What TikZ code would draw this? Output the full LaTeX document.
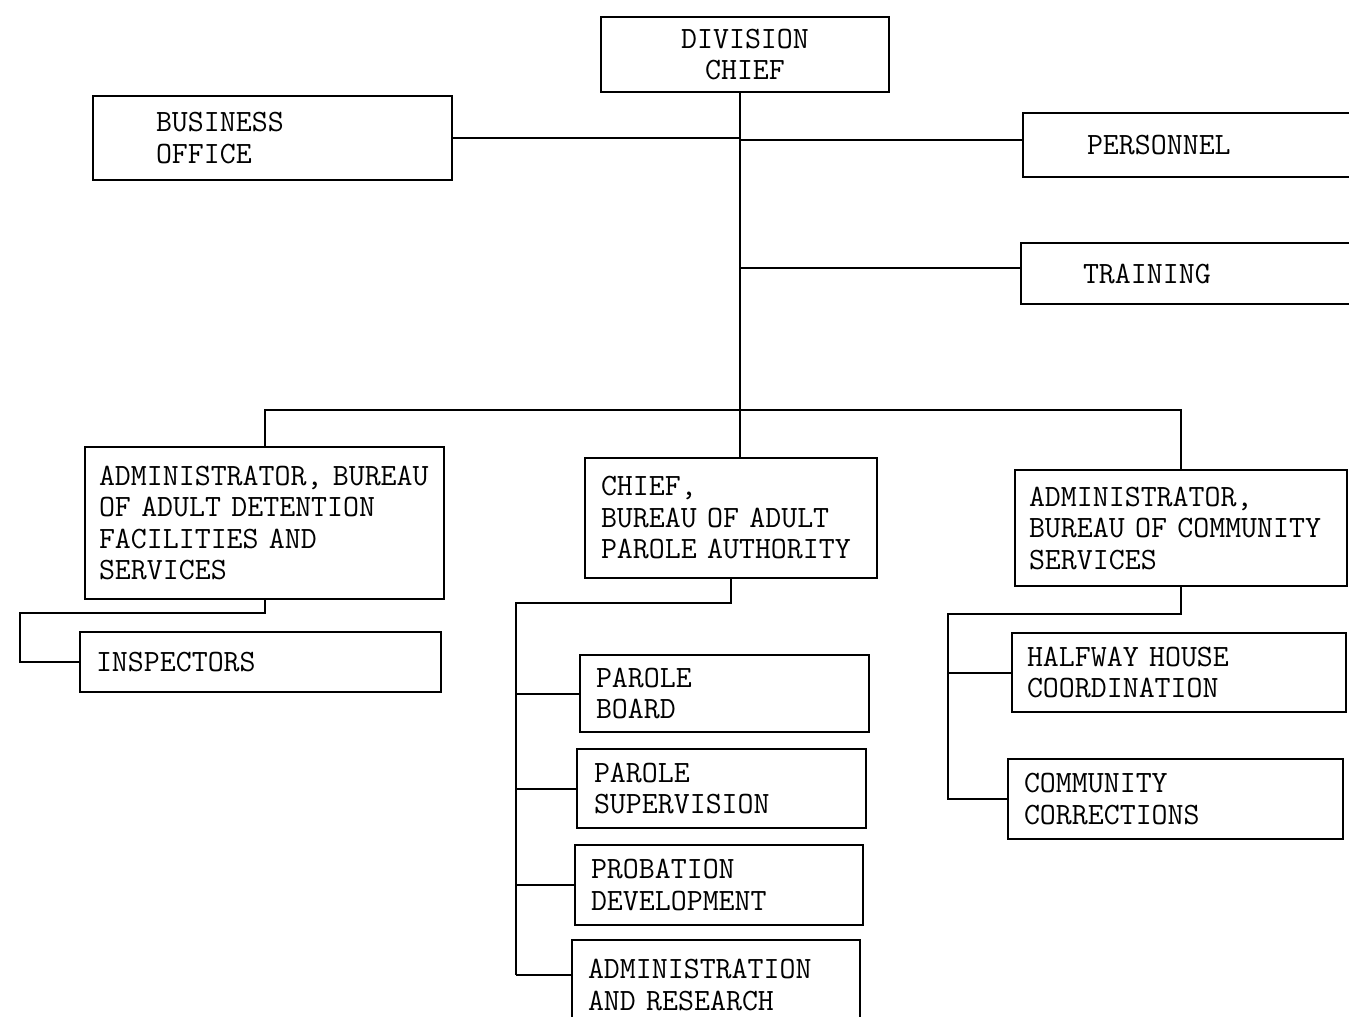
\documentclass[tikz,border=0pt]{standalone}
\usepackage{fontspec}
\begin{document}
\begin{tikzpicture}[x=1pt,y=-1pt,
  box/.style={draw, line width=2pt, align=left, inner ysep=2pt,
    font=\fontsize{31}{31.5}\selectfont\ttfamily\addfontfeature{FakeBold=0.6}},
  conn/.style={line width=2pt}]
\useasboundingbox (0,0) rectangle (1349,1017);
\clip (0,0) rectangle (1349,1017);
% boxes: centre, width, height, left padding
\node[box, align=center, minimum width=288pt, minimum height=75pt, text width=260pt, inner xsep=14pt] (div) at (745,54.5) {DIVISION\\CHIEF};
\node[box, minimum width=359pt, minimum height=84pt, text width=233pt, inner xsep=63pt] (bo) at (272.5,138) {BUSINESS\\OFFICE};
\node[box, minimum width=342pt, minimum height=64pt, text width=214pt, inner xsep=64pt] (per) at (1194,145) {PERSONNEL};
\node[box, minimum width=344pt, minimum height=61pt, text width=220pt, inner xsep=62pt] (trn) at (1193,273.5) {TRAINING};
\node[box, minimum width=359pt, minimum height=152pt, text width=331pt, inner xsep=14pt] (adf) at (264.5,523) {ADMINISTRATOR, BUREAU\\OF ADULT DETENTION\\FACILITIES AND\\SERVICES};
\node[box, minimum width=292pt, minimum height=120pt, text width=260pt, inner xsep=16pt] (apa) at (731,518) {CHIEF,\\BUREAU OF ADULT\\PAROLE AUTHORITY};
\node[box, minimum width=332pt, minimum height=116pt, text width=304pt, inner xsep=14pt] (acs) at (1181,528) {ADMINISTRATOR,\\BUREAU OF COMMUNITY\\SERVICES};
\node[box, minimum width=361pt, minimum height=60pt, text width=329pt, inner xsep=16pt] (ins) at (260.5,662) {INSPECTORS};
\node[box, minimum width=289pt, minimum height=77pt, text width=257pt, inner xsep=16pt] (pb) at (724.5,693.5) {PAROLE\\BOARD};
\node[box, minimum width=289pt, minimum height=79pt, text width=255pt, inner xsep=17pt] (ps) at (721.5,788.5) {PAROLE\\SUPERVISION};
\node[box, minimum width=288pt, minimum height=80pt, text width=256pt, inner xsep=16pt] (pd) at (719,885) {PROBATION\\DEVELOPMENT};
\node[box, minimum width=288pt, minimum height=90pt, text width=256pt, inner xsep=16pt] (ar) at (716,985) {ADMINISTRATION\\AND RESEARCH};
\node[box, minimum width=334pt, minimum height=79pt, text width=304pt, inner xsep=15pt] (hh) at (1179,672.5) {HALFWAY HOUSE\\COORDINATION};
\node[box, minimum width=335pt, minimum height=80pt, text width=303pt, inner xsep=16pt] (cc) at (1175.5,799) {COMMUNITY\\CORRECTIONS};
% connector coordinates
\coordinate (tk) at (740,0);
\coordinate (bus) at (0,410);
\coordinate (lx) at (20,613);
\coordinate (mx) at (516,603);
\coordinate (rx) at (948,614);
% trunk
\draw[conn] (tk |- div.south) -- (tk |- apa.north);
\draw[conn] (bo.east) -- (bo.east -| tk);
\draw[conn] ([yshift=5pt]per.west -| tk) -- ([yshift=5pt]per.west);
\draw[conn] ([yshift=6pt]trn.west -| tk) -- ([yshift=6pt]trn.west);
\draw[conn] (adf.north) -- (adf.north |- bus) -- (acs.north |- bus) -- (acs.north);
% left branch
\draw[conn] (adf.south) -- (adf.south |- lx) -- (lx) -- (lx |- ins.west) -- (ins.west);
% middle branch
\draw[conn] (apa.south) -- (apa.south |- mx) -- (mx) -- (mx |- 0,975);
\draw[conn] (pb.west -| mx) -- (pb.west);
\draw[conn] (ps.west -| mx) -- (ps.west);
\draw[conn] (pd.west -| mx) -- (pd.west);
\draw[conn] ([yshift=10pt]ar.west -| mx) -- ([yshift=10pt]ar.west);
% right branch
\draw[conn] (acs.south) -- (acs.south |- rx) -- (rx) -- (rx |- cc.west) -- (cc.west);
\draw[conn] (hh.west -| rx) -- (hh.west);
\end{tikzpicture}
\end{document}
